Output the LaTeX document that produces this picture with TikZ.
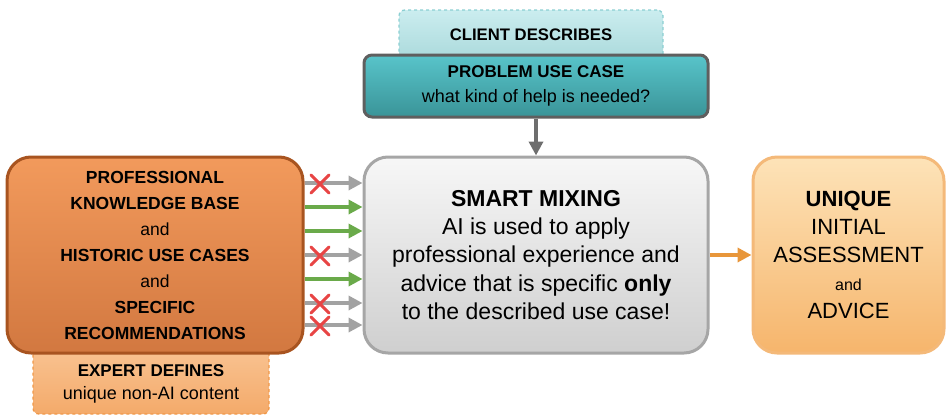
\documentclass[tikz,border=0pt]{standalone}
\usepackage{fontspec}
\setmainfont{Liberation Sans}
\usetikzlibrary{arrows.meta}
\definecolor{orTop}{HTML}{F29A5C}
\definecolor{orBot}{HTML}{D27840}
\definecolor{orLine}{HTML}{A85420}
\definecolor{exTop}{HTML}{F9C595}
\definecolor{exBot}{HTML}{F4AA6A}
\definecolor{exLine}{HTML}{F09848}
\definecolor{grTop}{HTML}{F7F7F7}
\definecolor{grBot}{HTML}{CFCFCF}
\definecolor{grLine}{HTML}{A6A6A6}
\definecolor{tlTop}{HTML}{58C4CA}
\definecolor{tlBot}{HTML}{3A9498}
\definecolor{tlLine}{HTML}{5F5F5F}
\definecolor{clTop}{HTML}{CBEDEF}
\definecolor{clBot}{HTML}{A6D7D9}
\definecolor{clLine}{HTML}{8CCFD2}
\definecolor{rtTop}{HTML}{FDE3B8}
\definecolor{rtBot}{HTML}{F6B56C}
\definecolor{rtLine}{HTML}{F4B979}
\definecolor{okGreen}{HTML}{6AAA4A}
\definecolor{noGray}{HTML}{A2A2A2}
\definecolor{outOrange}{HTML}{E8963A}
\definecolor{downGray}{HTML}{6E6E6E}
\definecolor{crossRed}{HTML}{E84545}
\begin{document}
\begin{tikzpicture}[x=1pt,y=-1pt,
  bigbox/.style={rounded corners=24pt, line width=3pt, minimum width=#1, minimum height=196pt, align=center, inner sep=0pt},
  okarrow/.style={draw=okGreen, line width=3.5pt, -{Triangle[length=14pt,width=14pt]}},
  noarrow/.style={draw=noGray, line width=3.5pt, -{Triangle[length=14pt,width=14pt]}},
  crossmark/.style={draw=crossRed, line width=3pt, line cap=round},
  label/.style={inner sep=0pt, align=center}
]
\useasboundingbox (0,0) rectangle (949,418);

% expert defines (behind)
\node[draw=exLine, dashed, line width=1.3pt, rounded corners=6pt, top color=exTop, bottom color=exBot,
  minimum width=236pt, minimum height=72pt, inner sep=0pt] (expertbg) at (151,378) {};
\node[label, font=\fontsize{17}{23}\selectfont] (expert) at (151,384) {\textbf{EXPERT DEFINES}\\{\fontsize{18}{23}\selectfont unique non-AI content}};

% left box
\node[bigbox=296pt, draw=orLine, top color=orTop, bottom color=orBot,
  font=\fontsize{17.5}{26}\selectfont] (left) at (155,255)
  {\textbf{PROFESSIONAL}\\\textbf{KNOWLEDGE BASE}\\and\\\textbf{HISTORIC USE CASES}\\and\\\textbf{SPECIFIC}\\\textbf{RECOMMENDATIONS}};

% client describes (behind)
\node[draw=clLine, dashed, line width=1.3pt, rounded corners=6pt, top color=clTop, bottom color=clBot,
  minimum width=264pt, minimum height=56pt, inner sep=0pt] (clientbg) at (531,38) {};
\node[label, font=\bfseries\fontsize{16.7}{20}\selectfont] (client) at (531,35) {CLIENT DESCRIBES};

% problem use case
\node[draw=tlLine, line width=3pt, rounded corners=8pt, top color=tlTop, bottom color=tlBot,
  minimum width=344pt, minimum height=62pt, inner sep=0pt, align=center,
  font=\fontsize{17}{25}\selectfont] (problem) at (536,86)
  {\textbf{PROBLEM USE CASE}\\{\fontsize{18}{25}\selectfont what kind of help is needed?}};

% smart mixing
\node[bigbox=344pt, draw=grLine, top color=grTop, bottom color=grBot,
  font=\fontsize{23}{28.3}\selectfont] (mix) at (536,255)
  {\textbf{SMART MIXING}\\AI is used to apply\\professional experience and\\advice that is specific \textbf{only}\\to the described use case!};

% result
\node[bigbox=191pt, draw=rtLine, top color=rtTop, bottom color=rtBot,
  font=\fontsize{22}{28}\selectfont] (result) at (848.5,255)
  {\textbf{UNIQUE}\\INITIAL\\ASSESSMENT\\{\fontsize{16}{28}\selectfont and}\\ADVICE};

% connectors
\draw[draw=downGray, line width=3.5pt, -{Triangle[length=14pt,width=14pt]}] (problem.south) -- (mix.north);
\draw[draw=outOrange, line width=3.5pt, -{Triangle[length=14pt,width=14pt]}] (mix.east) -- (result.west);

\draw[noarrow] ([yshift=72pt]left.east) -- ([yshift=72pt]mix.west);
\draw[okarrow] ([yshift=48pt]left.east) -- ([yshift=48pt]mix.west);
\draw[okarrow] ([yshift=24pt]left.east) -- ([yshift=24pt]mix.west);
\draw[noarrow] (left.east) -- (mix.west);
\draw[okarrow] ([yshift=-24pt]left.east) -- ([yshift=-24pt]mix.west);
\draw[noarrow] ([yshift=-48pt]left.east) -- ([yshift=-48pt]mix.west);
\draw[noarrow] ([yshift=-70pt]left.east) -- ([yshift=-70pt]mix.west);

% crosses
\foreach \cy in {184,256,304,326}{
  \draw[crossmark] (311,\cy-9) -- (329,\cy+9);
  \draw[crossmark] (311,\cy+9) -- (329,\cy-9);
}
\end{tikzpicture}
\end{document}
